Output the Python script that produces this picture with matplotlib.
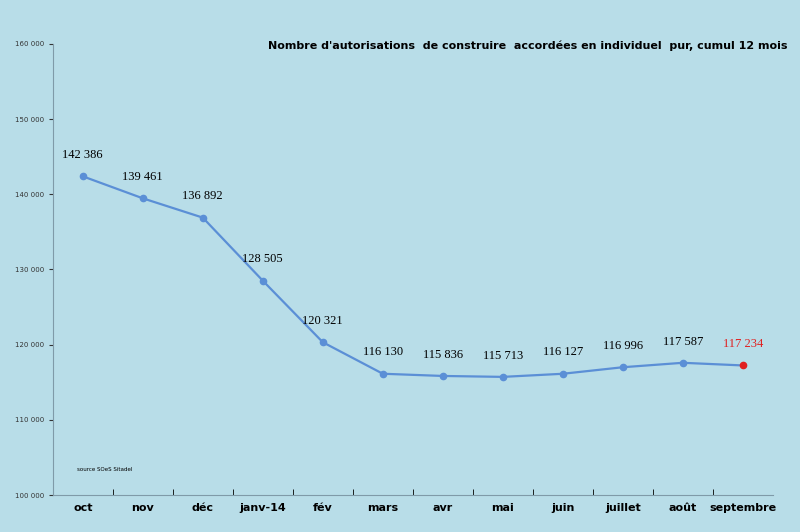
import matplotlib.pyplot as plt
from matplotlib.ticker import FuncFormatter

months = ['oct', 'nov', 'déc', 'janv-14', 'fév', 'mars', 'avr', 'mai', 'juin', 'juillet', 'août', 'septembre']
values = [142386, 139461, 136892, 128505, 120321, 116130, 115836, 115713, 116127, 116996, 117587, 117234]
yticks = [100000, 110000, 120000, 130000, 140000, 150000, 160000]

bg = '#b8dde8'
fig = plt.figure(figsize=(8, 5.32), dpi=100, facecolor=bg)
ax = fig.add_axes([0.066, 0.0695, 0.9, 0.848], facecolor=bg)

x = list(range(len(months)))
ax.plot(x[:-1], values[:-1], color='#5b8fd6', lw=1.6, marker='o', ms=4.5)
ax.plot(x[-2:], values[-2:], color='#5b8fd6', lw=1.6)
ax.plot(x[-1], values[-1], 'o', color='#e02020', ms=4.5)

def fmt(v):
    return f'{v:,}'.replace(',', ' ')

for i, v in enumerate(values):
    ax.annotate(fmt(v), (i, v), xytext=(0, 11), textcoords='offset points',
                ha='center', va='bottom', fontsize=9, family='Liberation Serif',
                color='#e02020' if i == len(values) - 1 else 'black')

ax.set_xlim(-0.5, len(months) - 0.5)
ax.set_ylim(100000, 160000)
ax.set_yticks(yticks)
ax.yaxis.set_major_formatter(FuncFormatter(lambda v, p: fmt(int(v))))
ax.tick_params(axis='y', labelsize=5, colors='#333333', length=3)
ax.set_xticks(x)
ax.set_xticklabels(months, fontsize=8, fontweight='bold')
ax.tick_params(axis='x', length=0, pad=6)
ax.set_xticks([i + 0.5 for i in x[:-1]], minor=True)
ax.tick_params(axis='x', which='minor', length=4, direction='in')

for s in ['top', 'right']:
    ax.spines[s].set_visible(False)
for s in ['left', 'bottom']:
    ax.spines[s].set_color('#7f9aa8')

fig.text(0.985, 0.905, "Nombre d'autorisations  de construire  accordées en individuel  pur, cumul 12 mois",
         ha='right', va='bottom', fontsize=8, fontweight='bold')
fig.text(0.096, 0.115, 'source SOeS Sitadel', fontsize=4)

fig.savefig('out.png', dpi=100, facecolor=bg)
